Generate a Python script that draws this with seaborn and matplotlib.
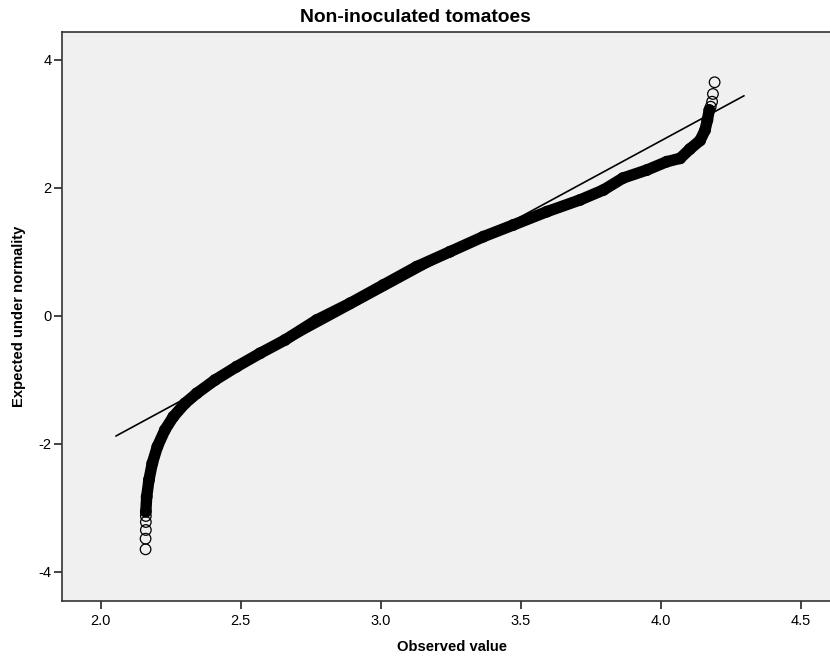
import matplotlib
matplotlib.use("Agg")
import matplotlib.pyplot as plt
import numpy as np
import pandas as pd
import seaborn as sns

observed = [2.160, 2.160, 2.161, 2.161, 2.161, 2.161, 2.164, 2.172, 2.184, 2.202,
            2.229, 2.259, 2.301, 2.343, 2.408, 2.485, 2.569, 2.658, 2.771, 2.890,
            3.009, 3.128, 3.247, 3.366, 3.473, 3.593, 3.711, 3.795, 3.865, 3.950,
            4.021, 4.069, 4.104, 4.140, 4.158, 4.166, 4.173, 4.178, 4.183, 4.186,
            4.192]
expected = [-3.651, -3.485, -3.349, -3.224, -3.130, -3.063, -2.828, -2.567, -2.306, -2.047,
            -1.785, -1.578, -1.368, -1.212, -1.004, -0.796, -0.586, -0.378, -0.066, 0.195,
            0.482, 0.768, 1.002, 1.237, 1.420, 1.628, 1.811, 1.967, 2.154, 2.279,
            2.409, 2.462, 2.608, 2.741, 2.905, 3.061, 3.217, 3.269, 3.347, 3.468,
            3.651]

# reference line end points
ref_x = [2.054, 4.297]
ref_y = [-1.88, 3.44]

x_ticks = [2.0, 2.5, 3.0, 3.5, 4.0, 4.5]
y_ticks = [-4, -2, 0, 2, 4]

sns.set_theme(style="ticks")
plt.rcParams["font.family"] = ["Liberation Sans", "DejaVu Sans"]
plt.rcParams["text.color"] = "black"
plt.rcParams["axes.labelcolor"] = "black"

df = pd.DataFrame({"observed": observed, "expected": expected})
ref = pd.DataFrame({"x": ref_x, "y": ref_y})

fig = plt.figure(figsize=(8.3, 6.6), dpi=100)
ax = fig.add_axes([0.0743, 0.0894, 0.9257, 0.8626])
ax.set_facecolor("#f0f0f0")

sns.lineplot(data=ref, x="x", y="y", color="black", linewidth=1.2, ax=ax)
# dense run of overlapping markers looks like a thick band
sns.lineplot(data=df.iloc[5:37], x="observed", y="expected", sort=False, estimator=None,
             color="black", linewidth=8.2, solid_capstyle="round",
             solid_joinstyle="round", ax=ax)
sns.scatterplot(data=df, x="observed", y="expected", marker="o", s=58,
                facecolor="none", edgecolor="black", linewidth=0.9, ax=ax)

ax.set_xlim(1.8604, 4.604)
ax.set_ylim(-4.459, 4.442)
ax.set_xticks(x_ticks)
ax.set_xticklabels([f"{t:.1f}" for t in x_ticks])
ax.set_yticks(y_ticks)
ax.set_yticklabels([str(t) for t in y_ticks])
ax.tick_params(direction="out", length=6, width=1.2, colors="#222222",
               labelsize=10.5, labelcolor="black")
ax.tick_params(axis="y", pad=1.5)

for side in ["left", "top", "bottom"]:
    ax.spines[side].set_color("#333333")
    ax.spines[side].set_linewidth(1.2)
ax.spines["right"].set_visible(False)

ax.set_xlabel("Observed value", fontsize=10.6, fontweight="bold")
ax.set_ylabel("Expected under normality", fontsize=10.6, fontweight="bold")
ax.xaxis.set_label_coords(0.508, -0.081)
ax.yaxis.set_label_coords(-0.0556, 0.5)
ax.xaxis.label.set_va("center")
ax.yaxis.label.set_va("center")
fig.text(0.5, 0.974, "Non-inoculated tomatoes", ha="center", va="center",
         fontsize=13.9, fontweight="bold", color="black")

fig.savefig("out.png", dpi=100)
